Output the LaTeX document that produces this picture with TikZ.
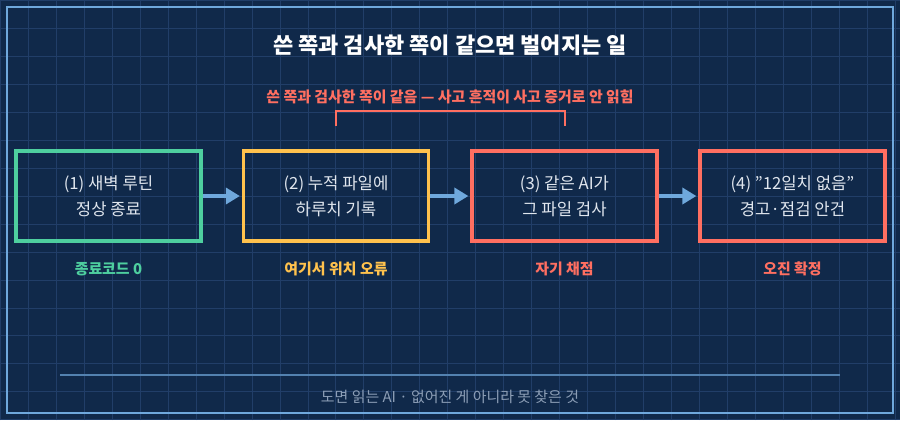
\documentclass[tikz,border=0pt]{standalone}
\usepackage{fontspec}
\setmainfont{Noto Sans CJK KR}
\usetikzlibrary{arrows.meta}
\definecolor{navy}{RGB}{16,41,74}
\definecolor{gridblue}{RGB}{33,62,104}
\definecolor{frameblue}{RGB}{111,168,220}
\definecolor{mint}{RGB}{78,207,159}
\definecolor{amber}{RGB}{255,194,77}
\definecolor{coral}{RGB}{255,111,97}
\definecolor{paletext}{RGB}{224,230,238}
\definecolor{greytext}{RGB}{140,158,182}
\tikzset{>=Triangle}
\tikzset{%
    stage/.style={draw=#1, line width=2.2pt, minimum width=3.7cm, minimum height=1.8cm,
        align=center, text=paletext, font=\fontsize{9.5}{15}\selectfont},
    tag/.style={text=#1, font=\fontsize{8.5}{10}\selectfont\bfseries},
    flow/.style={->, frameblue, line width=1.8pt, shorten >=1pt}
}
\begin{document}
\begin{tikzpicture}[x=0.02cm,y=-0.02cm]
    \fill[navy] (0,0) rectangle (900,420);
    \clip (0,0) rectangle (900,420);
	\draw[gridblue, line width=0.5pt, step=0.56cm] (0,0) grid (900,420);
	\draw[frameblue, line width=1.2pt] (7,7) rectangle (893,413);
    \node (title) at (450,45) {\color{white}\fontsize{12.5}{14}\selectfont\bfseries 쓴 쪽과 검사한 쪽이 같으면 벌어지는 일};
    \node (claim) at (450,97) [tag=coral] {쓴 쪽과 검사한 쪽이 같음 — 사고 흔적이 사고 증거로 안 읽힘};
    \draw[coral, line width=1.2pt] (336,126) -- (336,111) -- (565,111) -- (565,126);
    \node[stage=mint] (s1) at (108.5,196) {(1) 새벽 루틴\\정상 종료};
    \node[stage=amber] (s2) at (336,196) {(2) 누적 파일에\\하루치 기록};
    \node[stage=coral] (s3) at (564.5,196) {(3) 같은 AI가\\그 파일 검사};
    \node[stage=coral] (s4) at (792.5,196) {(4) "12일치 없음"\\경고·점검 안건};
    \draw[flow] (s1) -- (s2);
    \draw[flow] (s2) -- (s3);
    \draw[flow] (s3) -- (s4);
    \node[tag=mint] (t1) at (108.5,269) {종료코드 0};
    \node[tag=amber] (t2) at (336,269) {여기서 위치 오류};
    \node[tag=coral] (t3) at (564.5,269) {자기 채점};
    \node[tag=coral] (t4) at (792.5,269) {오진 확정};
    \draw[frameblue!70!navy, line width=0.6pt] (60,375) -- (840,375);
    \node (foot) at (450,397) {\color{greytext}\fontsize{8.5}{10}\selectfont 도면 읽는 AI · 없어진 게 아니라 못 찾은 것};
\end{tikzpicture}
\end{document}
